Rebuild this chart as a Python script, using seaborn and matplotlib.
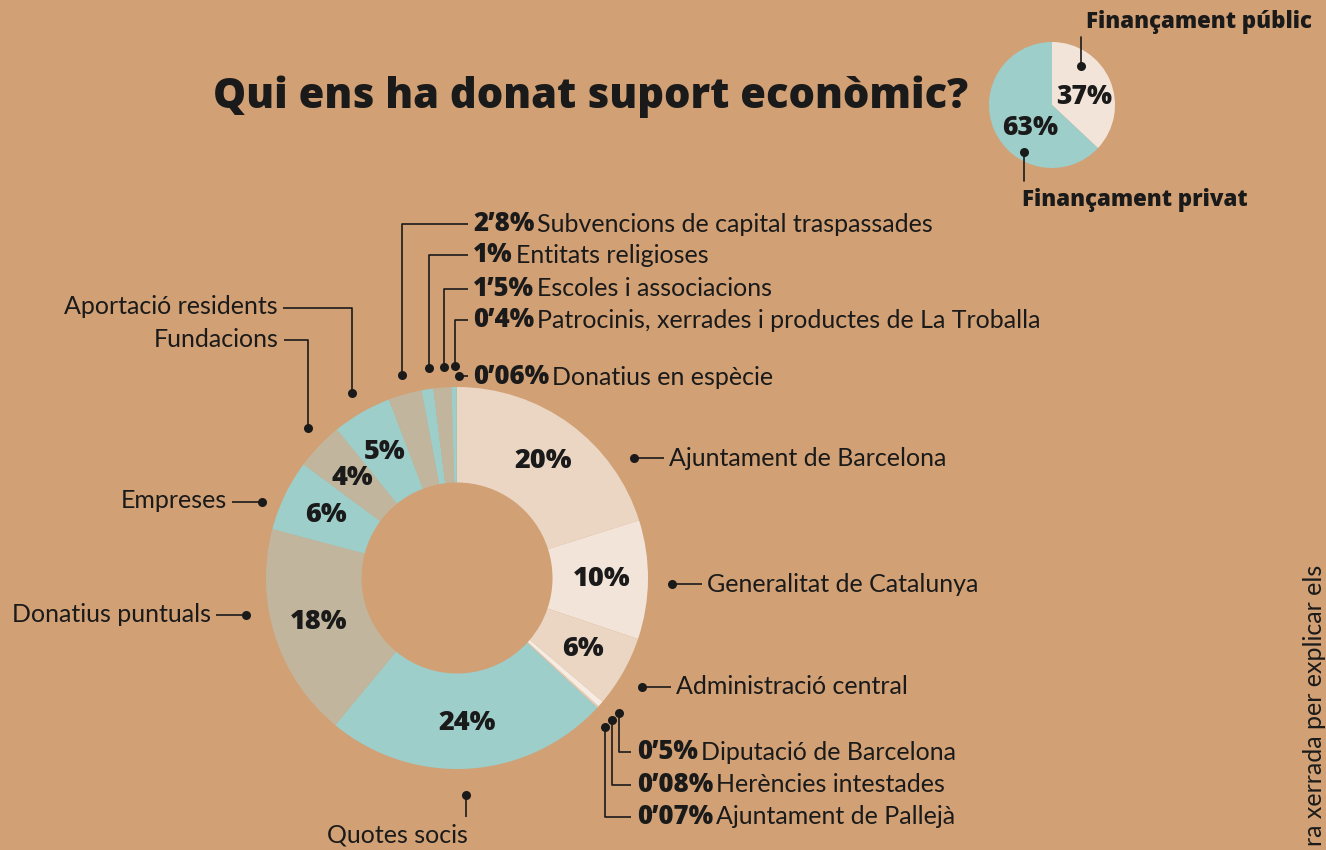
import matplotlib
matplotlib.use("Agg")
import matplotlib.pyplot as plt
import seaborn as sns
import numpy as np

sns.set_theme(style="white")
plt.rcParams['font.family'] = ['Lato', 'DejaVu Sans']

# Data
segments = ["Ajuntament de Barcelona", "Generalitat de Catalunya", "Administració central",
            "Diputació de Barcelona", "Herències intestades", "Ajuntament de Pallejà",
            "Quotes socis", "Donatius puntuals", "Empreses", "Fundacions",
            "Aportació residents", "Subvencions de capital traspassades",
            "Entitats religioses", "Escoles i associacions",
            "Patrocinis, xerrades i productes de La Troballa", "Donatius en espècie"]
shares = [20, 10, 6, 0.5, 0.08, 0.07, 24, 18, 6, 4, 5, 2.8, 1, 1.5, 0.4, 0.06]
share_labels = ["20%", "10%", "6%", "0’5%", "0’08%", "0’07%", "24%", "18%", "6%",
                "4%", "5%", "2’8%", "1%", "1’5%", "0’4%", "0’06%"]

funding = ["Finançament públic", "Finançament privat"]
funding_shares = [37, 63]
funding_labels = ["37%", "63%"]

title = "Qui ens ha donat suport econòmic?"
side_note = "ra xerrada per explicar els"

# Style
W, H = 1326, 850
BG = "#d1a075"
INK = "#1a1a1a"
CREAM = "#ebd6c3"
CREAM_LIGHT = "#f2e4d8"
CREAM_PALE = "#f6ece3"
TEAL = "#9dcec9"
GREIGE = "#c1b69d"
seg_colors = [CREAM, CREAM_LIGHT, CREAM, CREAM_PALE, CREAM, CREAM,
              TEAL, GREIGE, TEAL, GREIGE, TEAL, GREIGE, TEAL, GREIGE, TEAL, TEAL]
HEAVY = dict(family=["Open Sans", "Lato", "DejaVu Sans"], fontweight="heavy")

fig = plt.figure(figsize=(W / 100, H / 100), dpi=100)
fig.patch.set_facecolor(BG)


def pix_axes(cx, cy, r):
    # square axes centred on (cx, cy) in pixel coords (y from top)
    return fig.add_axes([(cx - r) / W, (H - cy - r) / H, 2 * r / W, 2 * r / H])


# =========================
# Main donut
# =========================
ax = pix_axes(457, 578, 191)
wedges, _ = ax.pie(shares, colors=seg_colors, startangle=90, counterclock=False,
                   radius=1, wedgeprops=dict(width=0.5, linewidth=0))
ax.set_xlim(-1, 1)
ax.set_ylim(-1, 1)
ax.axis("off")

for w, v in zip(wedges, shares):
    if v >= 4:
        mid = np.deg2rad((w.theta1 + w.theta2) / 2)
        ax.text(0.76 * np.cos(mid), 0.76 * np.sin(mid), f"{v:g}%", ha="center",
                va="center", fontsize=19.5, color=INK, **HEAVY)

# =========================
# Small pie
# =========================
ax2 = pix_axes(1052, 105, 63)
ax2.pie(funding_shares, colors=[CREAM_LIGHT, TEAL], startangle=90,
        counterclock=False, radius=1, wedgeprops=dict(linewidth=0))
ax2.set_xlim(-1, 1)
ax2.set_ylim(-1, 1)
ax2.axis("off")

# =========================
# Overlay for text and leaders
# =========================
ov = fig.add_axes([0, 0, 1, 1], zorder=10)
ov.set_xlim(0, W)
ov.set_ylim(H, 0)
ov.axis("off")
ov.patch.set_visible(False)
renderer = fig.canvas.get_renderer()

LABEL_FS = 18


def leader(points, text_xy, regular, bold=None, ha="left"):
    xs, ys = zip(*points)
    ov.plot(xs, ys, color=INK, lw=1.2, solid_capstyle="butt")
    ov.plot(xs[0], ys[0], "o", ms=6.5, color=INK, mec="none")
    x, y = text_xy
    if bold:
        t = ov.text(x, y, bold, ha="left", va="center", fontsize=18.5,
                    color=INK, **HEAVY)
        bb = t.get_window_extent(renderer)
        x = bb.x1 + 3
    ov.text(x, y, regular, ha=ha, va="center", fontsize=LABEL_FS, color=INK)


layout = {
    0: ([(634, 458), (664, 458)], (669, 458), "left"),
    1: ([(672, 584), (702, 584)], (707, 584), "left"),
    2: ([(642, 687), (671, 687)], (676, 687), "left"),
    3: ([(619, 713), (619, 752), (631, 752)], (637, 752), "left"),
    4: ([(612, 720), (612, 785), (631, 785)], (637, 785), "left"),
    5: ([(605, 727), (605, 817), (631, 817)], (637, 817), "left"),
    6: ([(466, 795), (466, 817)], (468, 835), "right"),
    7: ([(246, 615), (216, 615)], (211, 615), "right"),
    8: ([(262, 502), (232, 502)], (227, 501), "right"),
    9: ([(308, 428), (308, 340), (284, 340)], (279, 339), "right"),
    10: ([(352, 393), (352, 308), (283, 308)], (278, 307), "right"),
    11: ([(402, 375), (402, 224), (468, 224)], (473, 224), "left"),
    12: ([(429, 368), (429, 255), (468, 255)], (473, 255), "left"),
    13: ([(444, 367), (444, 289), (468, 289)], (473, 289), "left"),
    14: ([(455, 366), (455, 320), (468, 320)], (473, 320), "left"),
    15: ([(459, 376), (468, 376)], (473, 377), "left"),
}
big_public = {0, 1, 2}
for i, (pts, txy, ha) in layout.items():
    if ha == "right" or i in big_public:
        leader(pts, txy, segments[i], ha=ha)
    else:
        leader(pts, txy, segments[i], bold=share_labels[i])

# small pie labels
ov.text(1084, 97, funding_labels[0], ha="center", va="center", fontsize=19,
        color=INK, **HEAVY)
ov.text(1030, 128, funding_labels[1], ha="center", va="center", fontsize=19,
        color=INK, **HEAVY)
ov.plot([1081, 1081], [66, 37], color=INK, lw=1.2)
ov.plot(1081, 66, "o", ms=6.5, color=INK, mec="none")
ov.plot([1024, 1024], [152, 181], color=INK, lw=1.2)
ov.plot(1024, 152, "o", ms=6.5, color=INK, mec="none")
ov.text(1086, 22, funding[0], ha="left", va="center", fontsize=16,
        color=INK, **HEAVY)
ov.text(1022, 200, funding[1], ha="left", va="center", fontsize=16,
        color=INK, **HEAVY)

# title
ov.text(591, 97, title, ha="center", va="center", fontsize=30,
        color=INK, **HEAVY)

# clipped side note
ov.text(1314, 565, side_note, rotation=90, ha="center", va="top",
        fontsize=LABEL_FS, color=INK)

fig.savefig("out.png", dpi=100, facecolor=fig.get_facecolor())
plt.close(fig)
